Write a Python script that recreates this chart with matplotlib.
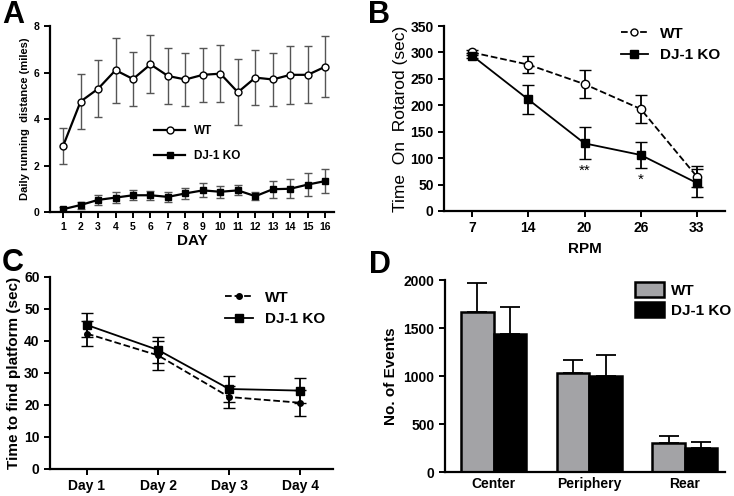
import numpy as np
import matplotlib
matplotlib.use('Agg')
import matplotlib.pyplot as plt
from matplotlib.lines import Line2D

plt.rcParams['font.family'] = ['Liberation Sans', 'DejaVu Sans']
plt.rcParams['axes.linewidth'] = 1.6
plt.rcParams['xtick.major.width'] = 1.4
plt.rcParams['ytick.major.width'] = 1.4

# ---- A: daily running distance ----
days = np.arange(1, 17)
a_wt = [2.84, 4.75, 5.3, 6.1, 5.72, 6.35, 5.85, 5.7, 5.9, 5.95, 5.15, 5.78, 5.7, 5.9, 5.9, 6.25]
a_wt_err = [0.77, 1.2, 1.22, 1.4, 1.17, 1.25, 1.22, 1.13, 1.15, 1.22, 1.42, 1.17, 1.15, 1.25, 1.22, 1.3]
a_ko = [0.12, 0.3, 0.52, 0.62, 0.72, 0.72, 0.65, 0.8, 0.93, 0.87, 0.93, 0.68, 0.98, 1.0, 1.18, 1.33]
a_ko_err = [0.1, 0.15, 0.22, 0.22, 0.22, 0.2, 0.2, 0.22, 0.3, 0.25, 0.22, 0.18, 0.37, 0.4, 0.5, 0.53]

# ---- B: rotarod ----
rpm = ['7', '14', '20', '26', '33']
b_wt = [300, 277, 240, 193, 65]
b_wt_err = [4, 16, 27, 26, 20]
b_ko = [294, 211, 128, 106, 53]
b_ko_err = [4, 28, 30, 25, 26]
b_stars = ['', '', '**', '*', '']

# ---- C: water maze ----
maze_days = ['Day 1', 'Day 2', 'Day 3', 'Day 4']
c_wt = [42.3, 35.5, 22.5, 20.7]
c_wt_err = [3.8, 4.5, 3.4, 4.1]
c_ko = [45.0, 37.2, 25.0, 24.5]
c_ko_err = [3.9, 4.2, 4.1, 3.9]

# ---- D: open field events ----
zones = ['Center', 'Periphery', 'Rear']
d_wt = [1665, 1030, 305]
d_wt_err = [300, 135, 70]
d_ko = [1440, 1000, 252]
d_ko_err = [280, 215, 62]

fig = plt.figure(figsize=(7.34, 4.96), dpi=100)
W, H = 734, 496

def add_ax(l, r, t, b):
    return fig.add_axes([l / W, 1 - b / H, (r - l) / W, (b - t) / H])

def style(ax, size):
    ax.spines['top'].set_visible(False)
    ax.spines['right'].set_visible(False)
    ax.tick_params(direction='out', length=4, labelsize=size)
    for lab in ax.get_xticklabels() + ax.get_yticklabels():
        lab.set_fontweight('bold')

def line_key(ls, marker, ms, mfc='black', lw=1.3):
    return Line2D([], [], color='black', ls=ls, lw=lw, marker=marker, ms=ms, mfc=mfc, mec='black')

# Panel A
ax = add_ax(50, 334, 26, 212)
ax.errorbar(days, a_wt, yerr=a_wt_err, color='black', ecolor='#555555', elinewidth=1,
            capsize=3, lw=1.6, marker='o', ms=5, mfc='white', mec='black')
ax.errorbar(days, a_ko, yerr=a_ko_err, color='black', ecolor='#555555', elinewidth=1,
            capsize=3, lw=1.6, marker='s', ms=4.5)
ax.set_xlim(0.25, 16.5)
ax.set_ylim(0, 8)
ax.set_xticks(days)
ax.set_yticks([0, 2, 4, 6, 8])
ax.set_xlabel('DAY', fontsize=11, fontweight='bold', labelpad=1)
ax.set_ylabel('Daily running  distance (miles)', fontsize=8, fontweight='bold', labelpad=3)
style(ax, 7.5)
ax.legend([line_key('-', 'o', 5, 'white', 1.6), line_key('-', 's', 4.5, 'black', 1.6)],
          ['WT', 'DJ-1 KO'], loc='center left', bbox_to_anchor=(0.33, 0.37), frameon=False,
          prop={'weight': 'bold', 'size': 8.5}, handlelength=2.6, labelspacing=1.1)

# Panel B
ax = add_ax(444, 725, 26, 211)
xb = np.arange(len(rpm))
ax.errorbar(xb, b_wt, yerr=b_wt_err, color='black', ls='--', lw=1.3, elinewidth=1.3,
            capsize=4, marker='o', ms=6, mfc='white', mec='black')
ax.errorbar(xb, b_ko, yerr=b_ko_err, color='black', lw=1.3, elinewidth=1.3,
            capsize=4, marker='s', ms=6)
for i, s in enumerate(b_stars):
    if s:
        ax.text(xb[i], b_ko[i] - b_ko_err[i] - 8, s, ha='center', va='top', fontsize=11)
ax.set_xlim(-0.5, 4.5)
ax.set_ylim(0, 350)
ax.set_xticks(xb)
ax.set_xticklabels(rpm)
ax.set_yticks(range(0, 351, 50))
ax.set_xlabel('RPM', fontsize=11, fontweight='bold', labelpad=5)
ax.set_ylabel('Time  On  Rotarod (sec)', fontsize=12.5, labelpad=2)
style(ax, 10)
ax.legend([line_key('--', 'o', 5, 'white'), line_key('-', 's', 6)], ['WT', 'DJ-1 KO'],
          loc='upper left', bbox_to_anchor=(0.58, 1.07), frameon=False,
          prop={'weight': 'bold', 'size': 11}, handlelength=1.8, labelspacing=0.5)

# Panel C
ax = add_ax(50, 333, 277, 469)
xc = np.arange(len(maze_days))
ax.errorbar(xc, c_wt, yerr=c_wt_err, color='black', ls='--', lw=1.3, elinewidth=1.3,
            capsize=4, marker='o', ms=4)
ax.errorbar(xc, c_ko, yerr=c_ko_err, color='black', lw=1.3, elinewidth=1.3,
            capsize=4, marker='s', ms=6)
ax.set_xlim(-0.52, 3.46)
ax.set_ylim(0, 60)
ax.set_xticks(xc)
ax.set_xticklabels(maze_days)
ax.set_yticks(range(0, 61, 10))
ax.set_ylabel('Time to find platform (sec)', fontsize=11, fontweight='bold', labelpad=2)
style(ax, 10)
ax.legend([line_key('--', 'o', 4), line_key('-', 's', 6)], ['WT', 'DJ-1 KO'],
          loc='upper left', bbox_to_anchor=(0.57, 1.0), frameon=False,
          prop={'weight': 'bold', 'size': 11}, handlelength=1.8, labelspacing=0.5)

# Panel D
ax = add_ax(445, 725, 280, 472)
xd = np.arange(len(zones))
bw = 0.34
ax.bar(xd - bw / 2, d_wt, bw, color='#a3a3a6', edgecolor='black', lw=1.8, label='WT',
       yerr=[np.zeros(3), d_wt_err], error_kw=dict(ecolor='black', elinewidth=1.3, capsize=7, capthick=1.3))
ax.bar(xd + bw / 2, d_ko, bw, color='black', edgecolor='black', lw=1.8, label='DJ-1 KO',
       yerr=[np.zeros(3), d_ko_err], error_kw=dict(ecolor='black', elinewidth=1.3, capsize=7, capthick=1.3))
ax.set_xlim(-0.51, 2.42)
ax.set_ylim(0, 2000)
ax.set_xticks(xd)
ax.set_xticklabels(zones)
ax.set_yticks(range(0, 2001, 500))
ax.set_ylabel('No. of Events', fontsize=11, fontweight='bold', labelpad=4)
style(ax, 10)
ax.tick_params(axis='x', length=0)
ax.legend(loc='upper left', bbox_to_anchor=(0.655, 1.02), frameon=False, borderaxespad=0,
          prop={'weight': 'bold', 'size': 11}, handlelength=1.9, handleheight=1.1,
          handletextpad=0.5, labelspacing=0.3)

# panel letters
for lbl, x, y in [('A', 2, 0), ('B', 368, 0), ('C', 2, 248), ('D', 369, 250)]:
    fig.text(x / W, 1 - y / H, lbl, fontsize=22, fontweight='bold', va='top', ha='left')

fig.savefig('out.png', dpi=100)
